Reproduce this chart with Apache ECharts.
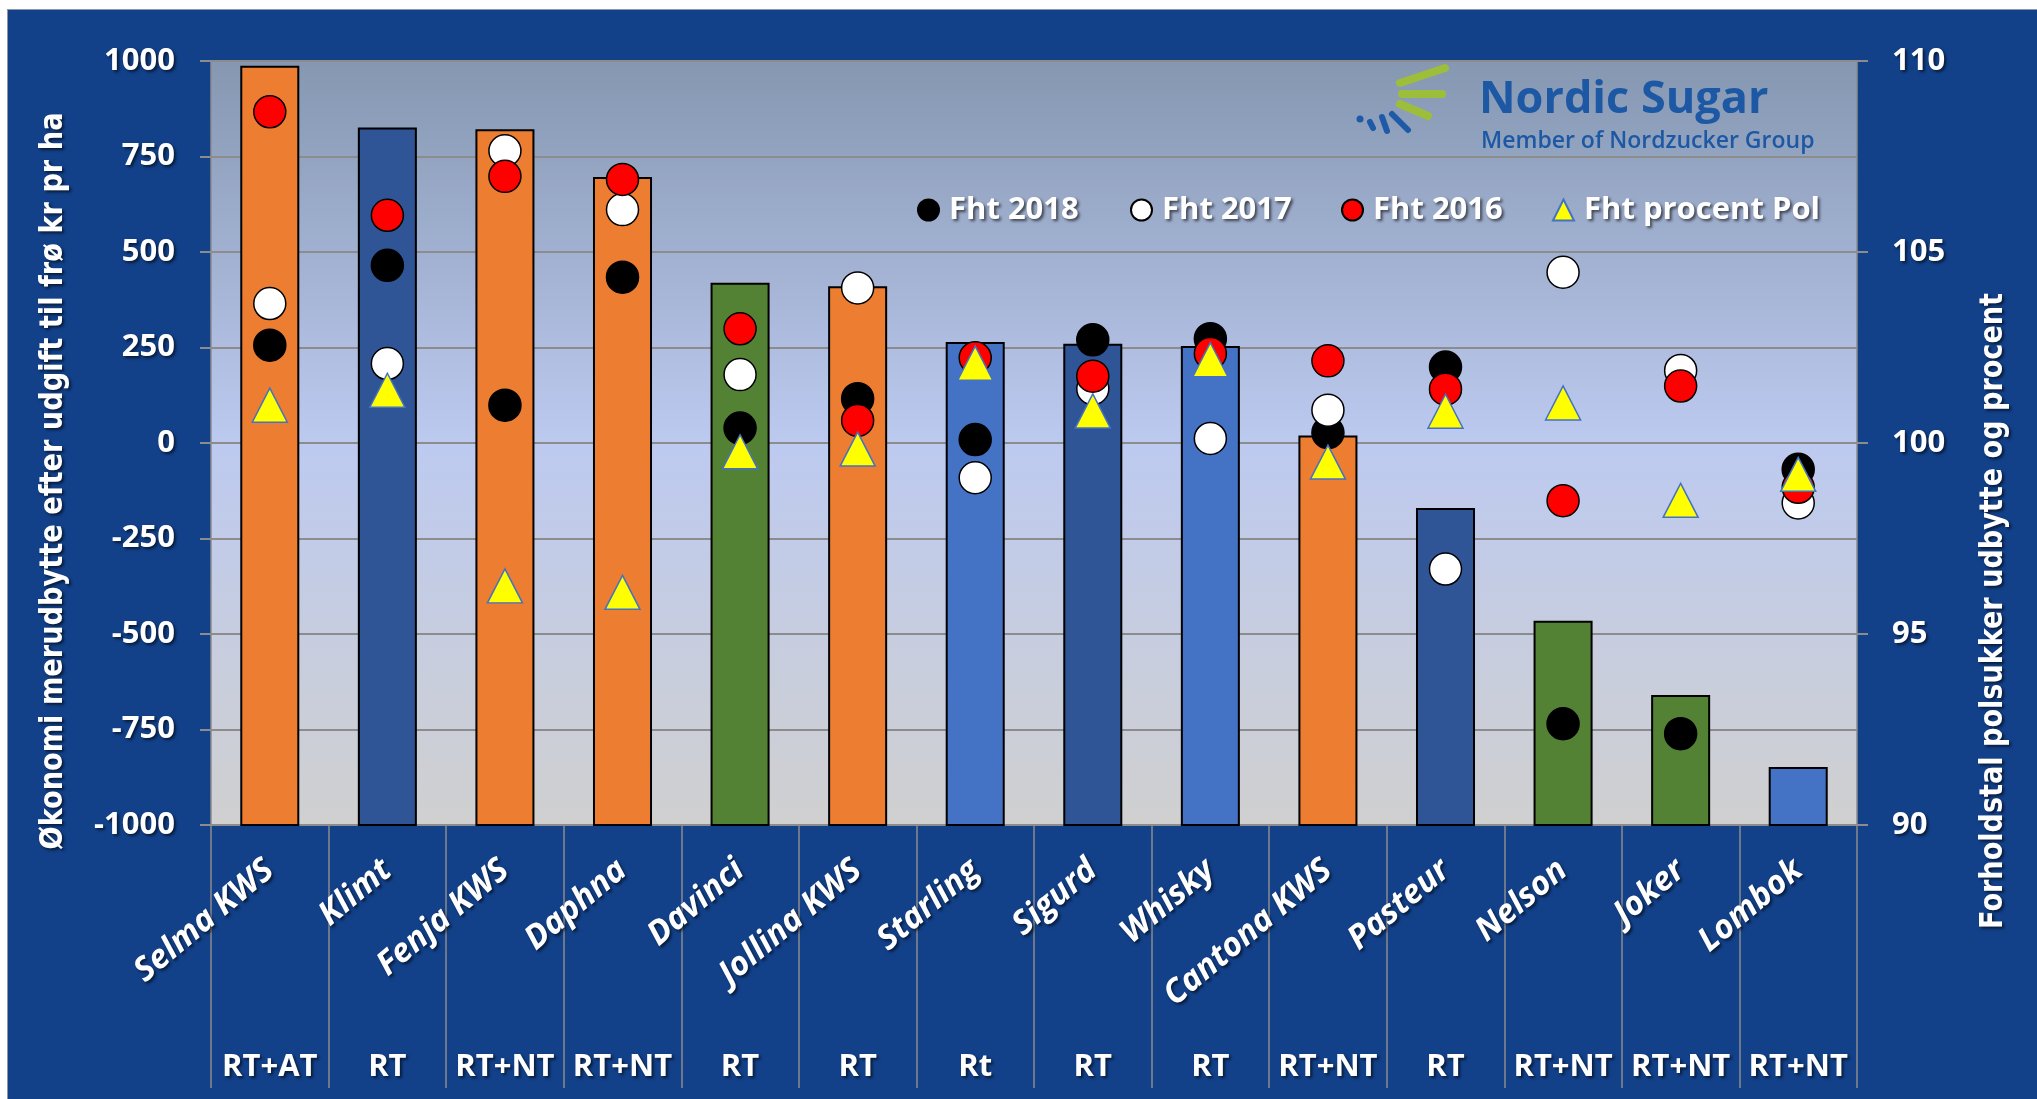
<!DOCTYPE html>
<html>
<head>
<meta charset="utf-8">
<script src="https://cdn.jsdelivr.net/npm/echarts@6/dist/echarts.min.js"></script>
<style>
  html, body { margin: 0; padding: 0; background: #fff; }
  #frame { position: absolute; left: 7px; top: 9px; width: 2030px; height: 1090px; background: #12418a; border-left: 1px solid #8a96a8; border-top: 1px solid #8a96a8; }
  #main { position: absolute; left: 0; top: 0; width: 2037px; height: 1099px; }
</style>
</head>
<body>
<div id="frame"></div>
<div id="main"></div>
<script>
// sorter og behandling
const categories = ['Selma KWS', 'Klimt', 'Fenja KWS', 'Daphna', 'Davinci', 'Jollina KWS', 'Starling',
  'Sigurd', 'Whisky', 'Cantona KWS', 'Pasteur', 'Nelson', 'Joker', 'Lombok'];
const treatments = ['RT+AT', 'RT', 'RT+NT', 'RT+NT', 'RT', 'RT', 'Rt', 'RT', 'RT', 'RT+NT', 'RT', 'RT+NT', 'RT+NT', 'RT+NT'];

// økonomi (venstre akse)
const economy = [985, 823, 819, 694, 417, 408, 262, 257, 251, 17, -173, -468, -662, -851];

// forholdstal (højre akse)
const fht2018 = [102.56, 104.65, 100.99, 104.34, 100.39, 101.16, 100.09, 102.70, 102.73, 100.27, 101.99, 92.65, 92.39, 99.31];
const fht2017 = [103.65, 102.08, 107.65, 106.11, 101.79, 104.06, 99.09, 101.42, 100.12, 100.86, 96.70, 104.47, 101.90, 98.43];
const fht2016 = [108.67, 105.96, 106.98, 106.90, 102.99, 100.59, 102.23, 101.75, 102.34, 102.15, 101.41, 98.49, 101.49, 98.84];
const polPct = [100.99, 101.38, 96.26, 96.09, 99.77, 99.84, 102.09, 100.84, 102.18, 99.50, 100.83, 101.05, 98.50, 99.18];

// farver pr søjle
const ORANGE = '#ed7d31', DARK = '#2f5597', GREEN = '#548235', BLUE = '#4472c4';
const barColors = [ORANGE, DARK, ORANGE, ORANGE, GREEN, ORANGE, BLUE, DARK, BLUE, ORANGE, DARK, GREEN, GREEN, BLUE];

const leftMin = -1000;
const textFont = '"Open Sans", "Liberation Sans", sans-serif';
const shadow = {
  textShadowColor: 'rgba(0,0,0,0.6)',
  textShadowBlur: 3,
  textShadowOffsetX: 2,
  textShadowOffsetY: 2
};
const gridColor = '#8c8c8c';

// skaler aksetitler så de passer i længden
function fitScale(text, font, target) {
  const ctx = document.createElement('canvas').getContext('2d');
  ctx.font = font;
  return target / ctx.measureText(text).width;
}
const titleFont = 'bold 32px "DejaVu Sans"';
const leftTitle = 'Økonomi merudbytte efter udgift til frø kr pr ha';
const rightTitle = 'Forholdstal polsukker udbytte og procent';

function renderBar(params, api) {
  const i = api.value(0);
  const top = api.coord([i, api.value(1)]);
  const base = api.coord([i, leftMin]);
  const w = api.size([1, 0])[0] * 0.485;
  return {
    type: 'rect',
    shape: { x: top[0] - w / 2, y: top[1], width: w, height: base[1] - top[1] },
    style: { fill: barColors[params.dataIndex], stroke: '#000', lineWidth: 2 }
  };
}

function dots(name, data, fill, symbol, size, border) {
  return {
    name: name,
    type: 'scatter',
    xAxisIndex: 0,
    yAxisIndex: 1,
    symbol: symbol,
    symbolSize: size,
    data: data,
    itemStyle: { color: fill, borderColor: border, borderWidth: 1.5, opacity: 1 },
    emphasis: { disabled: true },
    z: 5
  };
}

const legendText = Object.assign({ color: '#fff', fontFamily: textFont, fontWeight: 'bold', fontSize: 31, lineHeight: 32, padding: [0, 0, 0, 5] }, shadow);
function legendAt(name, left) {
  return {
    data: [name], left: left, top: 189, itemWidth: 21, itemHeight: 21,
    textStyle: legendText, selectedMode: false
  };
}

const axisText = Object.assign({ color: '#fff', fontFamily: textFont, fontWeight: 'bold', fontSize: 31 }, shadow);
const plain = v => String(v);

const chart = echarts.init(document.getElementById('main'), null, { renderer: 'canvas' });
const option = {
  animation: false,
  grid: {
    left: 211, top: 61, width: 1646, height: 764,
    show: true, borderWidth: 0,
    backgroundColor: {
      type: 'linear', x: 0, y: 0, x2: 0, y2: 1,
      colorStops: [
        { offset: 0, color: '#8597b1' },
        { offset: 0.5, color: '#bdcaf0' },
        { offset: 1, color: '#d0d0d0' }
      ]
    }
  },
  legend: [
    legendAt('Fht 2018', 912),
    legendAt('Fht 2017', 1125),
    legendAt('Fht 2016', 1336),
    legendAt('Fht procent Pol', 1547)
  ],
  xAxis: [{
    type: 'category',
    data: categories,
    position: 'bottom',
    axisLine: { onZero: false, lineStyle: { color: gridColor, width: 2 } },
    axisTick: { show: true, length: 263, lineStyle: { color: gridColor, width: 1.5 } },
    axisLabel: Object.assign({}, axisText, { interval: 0, rotate: 40, fontStyle: 'italic', fontSize: 33, margin: 41 })
  }, {
    type: 'category',
    data: treatments,
    position: 'bottom',
    axisLine: { show: false, onZero: false },
    axisTick: { show: false },
    axisLabel: Object.assign({}, axisText, { interval: 0, margin: 226, lineHeight: 32 })
  }],
  yAxis: [{
    type: 'value',
    min: leftMin, max: 1000, interval: 250,
    axisLine: { show: true, lineStyle: { color: gridColor, width: 1.5 } },
    axisTick: { show: true, length: 11, lineStyle: { color: gridColor, width: 2 } },
    splitLine: { show: true, lineStyle: { color: gridColor, width: 2 } },
    axisLabel: Object.assign({}, axisText, { margin: 36, formatter: plain })
  }, {
    type: 'value',
    position: 'right',
    min: 90, max: 110, interval: 5,
    axisLine: { show: true, lineStyle: { color: gridColor, width: 1.5 } },
    axisTick: { show: true, length: 11, lineStyle: { color: gridColor, width: 2 } },
    splitLine: { show: false },
    axisLabel: Object.assign({}, axisText, { margin: 35, formatter: plain })
  }],
  series: [{
    name: 'Økonomi',
    type: 'custom',
    xAxisIndex: 0,
    yAxisIndex: 0,
    renderItem: renderBar,
    encode: { x: 0, y: 1 },
    data: economy.map((v, i) => [i, v]),
    z: 2
  },
    dots('Fht 2018', fht2018, '#000000', 'circle', 32, '#000000'),
    dots('Fht 2017', fht2017, '#ffffff', 'circle', 32, '#000000'),
    dots('Fht 2016', fht2016, '#ff0000', 'circle', 32, '#000000'),
    dots('Fht procent Pol', polPct, '#ffff00', 'triangle', [35, 34], '#4472c4')
  ],
  graphic: [
    {
      type: 'text', x: 54, y: 481, rotation: Math.PI / 2,
      scaleX: fitScale(leftTitle, titleFont, 737),
      style: Object.assign({ text: leftTitle, font: titleFont, fill: '#fff', align: 'center', verticalAlign: 'middle' }, shadow)
    },
    {
      type: 'text', x: 1994, y: 611, rotation: Math.PI / 2,
      scaleX: fitScale(rightTitle, titleFont, 636),
      style: Object.assign({ text: rightTitle, font: titleFont, fill: '#fff', align: 'center', verticalAlign: 'middle' }, shadow)
    },
    // Nordic Sugar logo
    {
      type: 'group', z: 1,
      children: [
        { type: 'line', shape: { x1: 1400, y1: 83, x2: 1445, y2: 68 }, style: { stroke: '#9dbe3a', lineWidth: 8, lineCap: 'round' } },
        { type: 'line', shape: { x1: 1402, y1: 94, x2: 1442, y2: 94 }, style: { stroke: '#9dbe3a', lineWidth: 8, lineCap: 'round' } },
        { type: 'line', shape: { x1: 1400, y1: 104, x2: 1428, y2: 116 }, style: { stroke: '#9dbe3a', lineWidth: 8, lineCap: 'round' } },
        { type: 'circle', shape: { cx: 1360, cy: 119, r: 3.5 }, style: { fill: '#1f5aa8' } },
        { type: 'line', shape: { x1: 1370, y1: 122, x2: 1373, y2: 128 }, style: { stroke: '#1f5aa8', lineWidth: 6, lineCap: 'round' } },
        { type: 'line', shape: { x1: 1382, y1: 117, x2: 1387, y2: 131 }, style: { stroke: '#1f5aa8', lineWidth: 6, lineCap: 'round' } },
        { type: 'line', shape: { x1: 1392, y1: 114, x2: 1408, y2: 130 }, style: { stroke: '#1f5aa8', lineWidth: 6, lineCap: 'round' } },
        { type: 'text', x: 1479, y: 100, style: { text: 'Nordic Sugar', font: 'bold 45px "Open Sans"', fill: '#1d58a4', align: 'left', verticalAlign: 'middle' } },
        { type: 'text', x: 1481, y: 141, style: { text: 'Member of Nordzucker Group', font: '600 23px "Open Sans"', fill: '#1d58a4', align: 'left', verticalAlign: 'middle' } }
      ]
    }
  ]
};
chart.setOption(option);
</script>
</body>
</html>
